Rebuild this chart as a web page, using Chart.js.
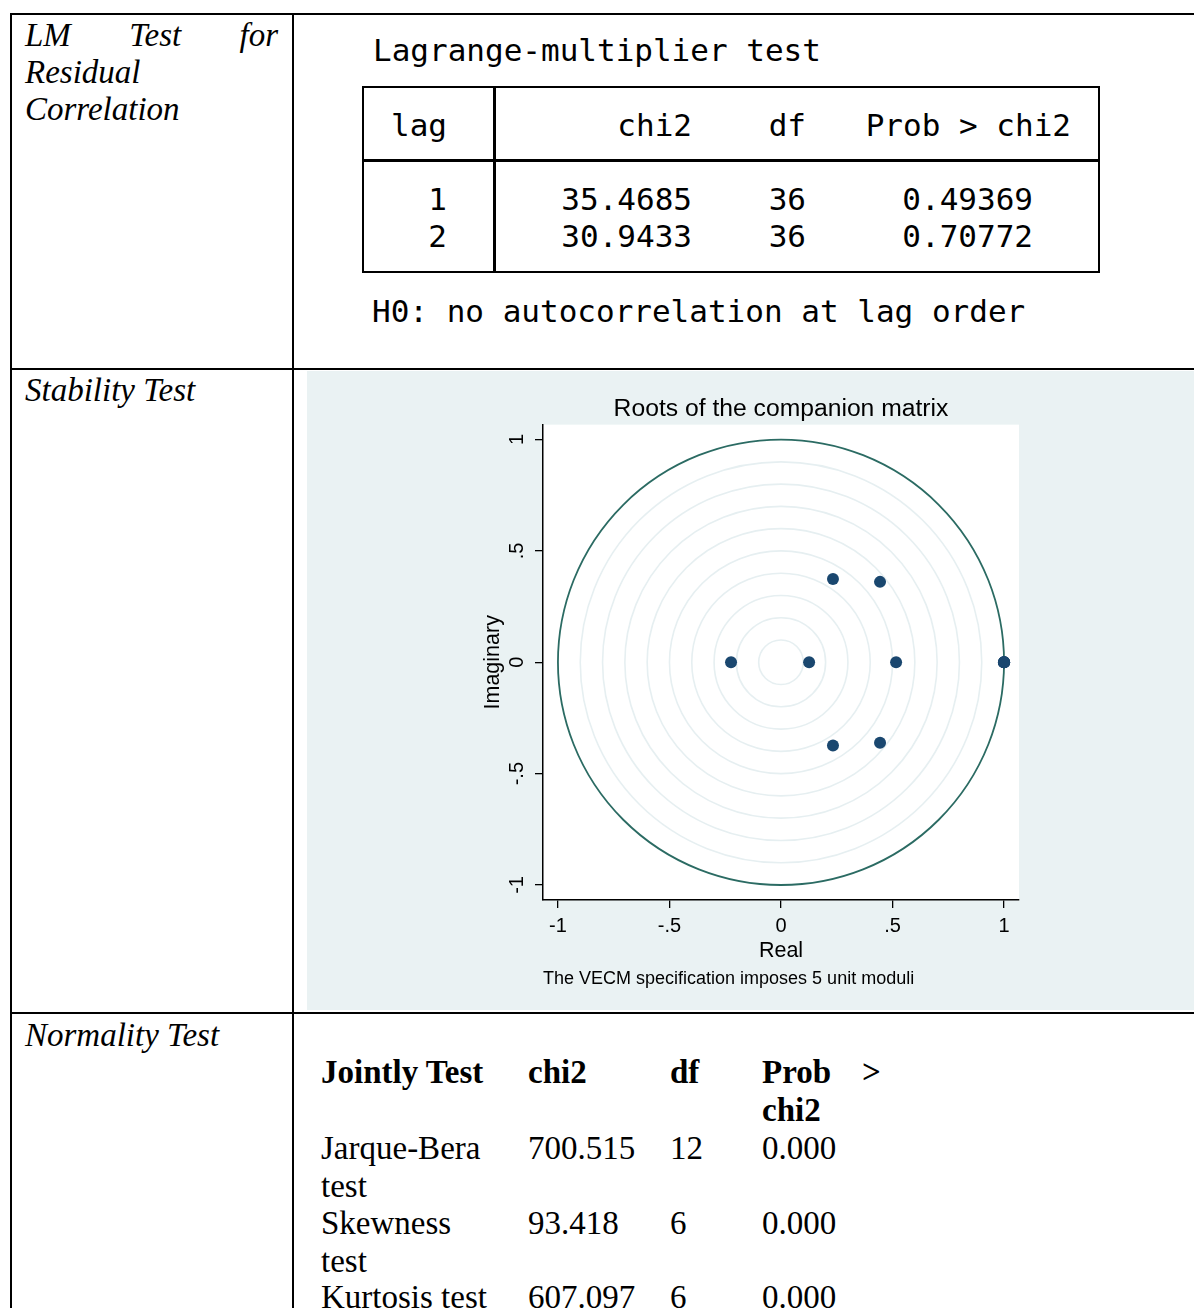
<!DOCTYPE html>
<html>
<head>
<meta charset="utf-8">
<script src="https://cdn.jsdelivr.net/npm/chart.js@4.4.1/dist/chart.umd.min.js"></script>
<style>
  html, body { margin:0; padding:0; background:#fff; }
  body { width:1194px; height:1308px; position:relative; overflow:hidden; }
  .ab { position:absolute; white-space:nowrap; }
  .hl { position:absolute; background:#000; }
  .serifI { font-family:"Liberation Serif", serif; font-style:italic; font-size:33px; line-height:40px; color:#000; }
  .serif { font-family:"Liberation Serif", serif; font-size:33px; line-height:40px; color:#000; }
  .serifB { font-family:"Liberation Serif", serif; font-weight:bold; font-size:33px; line-height:40px; color:#000; }
  .mono { font-family:"DejaVu Sans Mono", monospace; font-size:31px; line-height:40px; color:#000; }
  .r { text-align:right; width:300px; }
  #chartBox { position:absolute; left:307px; top:371px; width:887px; height:639px; background:#eaf2f3; }
</style>
</head>
<body>
<!-- document table borders -->
<div class="hl" style="left:10px; top:13px; width:1184px; height:2px;"></div>
<div class="hl" style="left:10px; top:368px; width:1184px; height:2px;"></div>
<div class="hl" style="left:10px; top:1012px; width:1184px; height:2px;"></div>
<div class="hl" style="left:10px; top:13px; width:2px; height:1295px;"></div>
<div class="hl" style="left:292px; top:13px; width:2px; height:1295px;"></div>

<!-- left column -->
<div class="ab serifI" style="left:25px; top:15px; width:253px; display:flex; justify-content:space-between;"><span>LM</span><span>Test</span><span>for</span></div>
<div class="ab serifI" style="left:25px; top:52px;">Residual</div>
<div class="ab serifI" style="left:25px; top:89px;">Correlation</div>
<div class="ab serifI" style="left:25px; top:370px;">Stability Test</div>
<div class="ab serifI" style="left:25px; top:1015px;">Normality Test</div>

<!-- LM test output -->
<div class="ab mono" style="left:373px; top:30px;">Lagrange-multiplier test</div>
<div class="ab" style="left:362px; top:86px; width:734px; height:183px; border:2.5px solid #000;"></div>
<div class="hl" style="left:493px; top:86px; width:2.5px; height:186px;"></div>
<div class="hl" style="left:362px; top:159px; width:738px; height:2.5px;"></div>
<div class="ab mono" style="left:372px; top:291px;">H0: no autocorrelation at lag order</div>

<!-- chart -->
<div id="chartBox"><canvas id="c" width="887" height="639"></canvas></div>

<script>
// ---------- data ----------
const lmLags = ['1', '2'];
const lmChi2 = ['35.4685', '30.9433'];
const lmDf = ['36', '36'];
const lmProb = ['0.49369', '0.70772'];

const normTests = [['Jarque-Bera', 'test'], ['Skewness', 'test'], ['Kurtosis test']];
const normChi2 = ['700.515', '93.418', '607.097'];
const normDf = ['12', '6', '6'];
const normProb = ['0.000', '0.000', '0.000'];

const rootReal = [1, 1, 1, 1, 1, -0.224, 0.126, 0.516, 0.233, 0.233, 0.444, 0.444];
const rootImag = [0, 0, 0, 0, 0, 0, 0, 0, 0.374, -0.374, 0.361, -0.361];
const ringRadii = [0.1, 0.2, 0.3, 0.4, 0.5, 0.6, 0.7, 0.8, 0.9];
const unitRadius = [1];
const tickVals = [-1, -0.5, 0, 0.5, 1];
const tickLabels = ['-1', '-.5', '0', '.5', '1'];

// ---------- LM table text ----------
function addText(cls, text, left, top, right) {
  const d = document.createElement('div');
  d.className = 'ab ' + cls + (right ? ' r' : '');
  d.textContent = text;
  d.style.top = top + 'px';
  d.style.left = (right ? left - 300 : left) + 'px';
  document.body.appendChild(d);
}
addText('mono', 'lag', 447, 105, true);
addText('mono', 'chi2', 692, 105, true);
addText('mono', 'df', 806, 105, true);
addText('mono', 'Prob > chi2', 1071, 105, true);
const rowTops = [179, 216];
lmLags.forEach((l, i) => {
  addText('mono', l, 447, rowTops[i], true);
  addText('mono', lmChi2[i], 692, rowTops[i], true);
  addText('mono', lmDf[i], 806, rowTops[i], true);
  addText('mono', lmProb[i], 1033, rowTops[i], true);
});

// ---------- normality table ----------
addText('serifB', 'Jointly Test', 321, 1052);
addText('serifB', 'chi2', 528, 1052);
addText('serifB', 'df', 670, 1052);
addText('serifB', 'Prob', 762, 1052);
addText('serifB', '>', 862, 1052);
addText('serifB', 'chi2', 762, 1090);
const normTops = [1128, 1203, 1277];
normTests.forEach((t, i) => {
  t.forEach((line, j) => addText('serif', line, 321, normTops[i] + j * 37.5));
  addText('serif', normChi2[i], 528, normTops[i]);
  addText('serif', normDf[i], 670, normTops[i]);
  addText('serif', normProb[i], 762, normTops[i]);
});

// ---------- chart ----------
const circlesPlugin = {
  id: 'circles',
  beforeDraw(chart) {
    const {ctx, chartArea: a} = chart;
    ctx.save();
    ctx.fillStyle = '#ffffff';
    ctx.fillRect(a.left, a.top, a.right - a.left, a.bottom - a.top);
    ctx.restore();
  },
  beforeDatasetsDraw(chart) {
    const {ctx, scales: {x, y}} = chart;
    const cx = x.getPixelForValue(0), cy = y.getPixelForValue(0);
    ctx.save();
    ringRadii.forEach(r => {
      ctx.beginPath();
      ctx.ellipse(cx, cy, x.getPixelForValue(r) - cx, cy - y.getPixelForValue(r), 0, 0, Math.PI * 2);
      ctx.strokeStyle = '#e6eff1';
      ctx.lineWidth = 1.6;
      ctx.stroke();
    });
    unitRadius.forEach(r => {
      ctx.beginPath();
      ctx.ellipse(cx, cy, x.getPixelForValue(r) - cx, cy - y.getPixelForValue(r), 0, 0, Math.PI * 2);
      ctx.strokeStyle = '#2b6b63';
      ctx.lineWidth = 1.8;
      ctx.stroke();
    });
    ctx.restore();
  }
};

const tickCb = (v) => { const i = tickVals.indexOf(v); return i >= 0 ? tickLabels[i] : ''; };
const sansFont = 'Liberation Sans, Arial, sans-serif';

new Chart(document.getElementById('c'), {
  type: 'scatter',
  data: {
    datasets: [{
      data: rootReal.map((re, i) => ({x: re, y: rootImag[i]})),
      backgroundColor: '#1a476f',
      borderColor: '#1a476f',
      pointRadius: 6,
      pointHoverRadius: 6,
      borderWidth: 0
    }]
  },
  options: {
    responsive: false,
    animation: false,
    events: [],
    layout: { padding: { left: 172, right: 175, top: 0, bottom: 20 } },
    plugins: {
      legend: { display: false },
      tooltip: { enabled: false },
      title: {
        display: true, text: 'Roots of the companion matrix', fullSize: false,
        color: '#000', font: { family: sansFont, size: 24.7, weight: 'normal', lineHeight: 1.2 },
        padding: { top: 23, bottom: 1 }
      },
      subtitle: {
        display: true, position: 'bottom', align: 'start', fullSize: false,
        text: 'The VECM specification imposes 5 unit moduli',
        color: '#000', font: { family: sansFont, size: 18, weight: 'normal', lineHeight: 1.2 },
        padding: { top: 7, bottom: 0 }
      }
    },
    scales: {
      x: {
        type: 'linear', min: -1.067, max: 1.067,
        afterBuildTicks: s => { s.ticks = tickVals.map(v => ({value: v})); },
        ticks: { callback: tickCb, color: '#000', padding: 7, maxRotation: 0,
                 font: { family: sansFont, size: 20, lineHeight: 1.2 } },
        grid: { display: true, drawOnChartArea: false, drawTicks: true, tickLength: 8, color: '#000', lineWidth: 1.3 },
        border: { display: true, color: '#000', width: 1.5 },
        title: { display: true, text: 'Real', color: '#000',
                 font: { family: sansFont, size: 21.5, lineHeight: 1 }, padding: { top: -6, bottom: 0 } }
      },
      y: {
        type: 'linear', min: -1.067, max: 1.067,
        afterBuildTicks: s => { s.ticks = tickVals.map(v => ({value: v})); },
        afterFit: s => { s.width = 64; },
        ticks: { callback: tickCb, color: '#000', padding: 6, minRotation: 90, maxRotation: 90, crossAlign: 'center',
                 font: { family: sansFont, size: 20, lineHeight: 1.2 } },
        grid: { display: true, drawOnChartArea: false, drawTicks: true, tickLength: 8, color: '#000', lineWidth: 1.3 },
        border: { display: true, color: '#000', width: 1.5 },
        title: { display: true, text: 'Imaginary', color: '#000',
                 font: { family: sansFont, size: 21.5, lineHeight: 1 }, padding: { top: 3, bottom: 0 } }
      }
    }
  },
  plugins: [circlesPlugin]
});
</script>
</body>
</html>
